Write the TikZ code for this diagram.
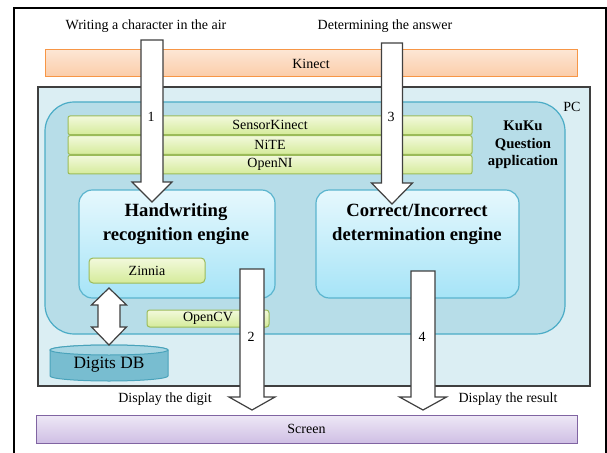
\documentclass[tikz,border=0pt]{standalone}
\usepackage{fontspec}
\setmainfont{Liberation Serif}
\usepackage{xcolor}
\usetikzlibrary{calc,positioning}

\definecolor{kinectEdge}{HTML}{F79646}
\definecolor{kinectTop}{HTML}{FDE6D4}
\definecolor{kinectBot}{HTML}{FBCCA8}
\definecolor{pcEdge}{HTML}{3F3F3F}
\definecolor{pcFill}{HTML}{DBEEF3}
\definecolor{kukuEdge}{HTML}{4BACC6}
\definecolor{kukuFill}{HTML}{B7DDE8}
\definecolor{greenEdge}{HTML}{9BBB59}
\definecolor{greenTop}{HTML}{F2F9DC}
\definecolor{greenBot}{HTML}{D5EB9A}
\definecolor{engineEdge}{HTML}{5AB4CE}
\definecolor{engineTop}{HTML}{E6F8FD}
\definecolor{engineBot}{HTML}{A6E4F7}
\definecolor{screenEdge}{HTML}{8064A2}
\definecolor{screenTop}{HTML}{EEE8F6}
\definecolor{screenBot}{HTML}{CFBFE4}
\definecolor{dbEdge}{HTML}{4AA3BB}
\definecolor{dbBody}{HTML}{78BDD0}
\definecolor{dbEnd}{HTML}{A8D6E3}
\definecolor{arrowEdge}{HTML}{404040}

\tikzset{
  labeltext/.style={font=\fontsize{10.5}{12}\selectfont, inner sep=0.75pt},
  enginetext/.style={font=\fontsize{14}{18}\selectfont\bfseries, align=center, inner sep=0.75pt},
  greenbar/.style={draw=greenEdge, line width=0.75pt, top color=greenTop, bottom color=greenBot,
    rounded corners=1.5pt, minimum width=303pt, minimum height=14pt, inner sep=0pt,
    font=\fontsize{10.5}{12}\selectfont},
  enginebox/.style={draw=engineEdge, line width=0.9pt, top color=engineTop, bottom color=engineBot,
    rounded corners=10pt, minimum height=81pt, inner sep=0pt},
  blockarrow/.style={draw=arrowEdge, fill=white, line width=0.9pt, line join=miter},
}

% start, tip, half shaft, half head, head length
\newcommand{\blockdown}[5]{%
  \draw[blockarrow] ($(#1)+(-#3,0)$) -- ($(#1)+(#3,0)$) -- ($(#2)+(#3,-#5)$) -- ($(#2)+(#4,-#5)$)
    -- (#2) -- ($(#2)+(-#4,-#5)$) -- ($(#2)+(-#3,-#5)$) -- cycle;}

\begin{document}
\begin{tikzpicture}[x=0.75pt,y=0.75pt,yscale=-1,xscale=1]
\useasboundingbox (0,0) rectangle (607,453);

%Frame
\draw [line width=0.9pt] (14,453) -- (14,8) -- (606,8) -- (606,453);

% Text Node
\node (writing) [labeltext] at (146,26) {Writing a character in the air};
% Text Node
\node (determining) [labeltext] at (385,26) {Determining the answer};

%Shape: Kinect
\node (kinect) [draw=kinectEdge, line width=0.75pt, top color=kinectTop, bottom color=kinectBot,
  minimum width=399pt, minimum height=20.25pt, inner sep=0pt, font=\fontsize{10.5}{12}\selectfont]
  at (311,63.5) {Kinect};

%Shape: PC
\node (pc) [draw=pcEdge, fill=pcFill, line width=0.9pt, minimum width=414pt, minimum height=224.25pt]
  at (314,236.5) {};
\node (pclabel) [labeltext] at (572,107) {PC};

%Shape: KuKu application
\node (kuku) [draw=kukuEdge, fill=kukuFill, line width=0.9pt, rounded corners=22pt,
  minimum width=390pt, minimum height=174pt] at (305,218) {};
\node (kukulabel) [font=\fontsize{11}{13}\selectfont\bfseries, align=center, inner sep=0.75pt]
  at (523,145) {KuKu\\Question\\application};

%Shape: middleware bars
\node (sensorkinect) [greenbar] at (270,125.33) {SensorKinect};
\node (nite) [greenbar, below=0pt of sensorkinect] {NiTE};
\node (openni) [greenbar, below=0pt of nite] {OpenNI};

%Shape: engines
\node (hwr) [enginebox, minimum width=147pt] at (177,244) {};
\node (hwrtext) [enginetext] at (176,224) {Handwriting\\recognition engine};
\node (cid) [enginebox, minimum width=152.25pt] at (417.5,244) {};
\node (cidtext) [enginetext] at (417,224) {Correct/Incorrect\\determination engine};

%Shape: libraries
\node (zinnia) [greenbar, minimum width=87pt, minimum height=18.75pt, rounded corners=3pt]
  at (147,270.5) {Zinnia};
\node (opencv) [greenbar, minimum width=91.5pt, minimum height=12.75pt, rounded corners=2pt]
  at (208,318.5) {OpenCV};

%Shape: Digits DB
\draw [draw=dbEdge, fill=dbBody, line width=0.75pt] (50,350) -- (50,376)
  arc [start angle=180, end angle=0, x radius=59, y radius=5] -- (168,350)
  arc [start angle=0, end angle=-180, x radius=59, y radius=5] -- cycle;
\draw [draw=dbEdge, fill=dbEnd, line width=0.75pt] (109,350) ellipse [x radius=59, y radius=5];
\node (digitsdb) [font=\fontsize{13}{15}\selectfont, inner sep=0.75pt] at (109,365) {Digits DB};

%Double arrow
\coordinate (dbtop) at (109,288);
\coordinate (dbbot) at (109,345);
\draw [blockarrow] (dbtop) -- ($(dbtop)+(17.5,17)$) -- ($(dbtop)+(11,17)$) -- ($(dbbot)+(11,-18)$)
  -- ($(dbbot)+(17.5,-18)$) -- (dbbot) -- ($(dbbot)+(-17.5,-18)$) -- ($(dbbot)+(-11,-18)$)
  -- ($(dbtop)+(-11,17)$) -- ($(dbtop)+(-17.5,17)$) -- cycle;

%Block arrows
\coordinate (in1) at (152,40);   \coordinate (tip1) at (152,202);
\coordinate (in3) at (392,43);   \coordinate (tip3) at (392,204);
\coordinate (in2) at (252,269);  \coordinate (tip2) at (252,410);
\coordinate (in4) at (423,271);  \coordinate (tip4) at (423,410);
\blockdown{in1}{tip1}{11}{20}{20}
\blockdown{in3}{tip3}{10.5}{20.5}{21}
\blockdown{in2}{tip2}{12}{23}{13}
\blockdown{in4}{tip4}{12}{23.5}{13}

% Text Node
\node (step1) [labeltext] at (151,117) {1};
\node (step3) [labeltext] at (391,117) {3};
\node (step2) [labeltext] at (251,337) {2};
\node (step4) [labeltext] at (422,337) {4};

% Text Node
\node (showdigit) [labeltext] at (165,399) {Display the digit};
\node (showresult) [labeltext] at (508,399) {Display the result};

%Shape: Screen
\node (screen) [draw=screenEdge, line width=0.75pt, top color=screenTop, bottom color=screenBot,
  minimum width=405.75pt, minimum height=21pt, inner sep=0pt, font=\fontsize{10.5}{12}\selectfont]
  at (306.5,429) {Screen};

\end{tikzpicture}
\end{document}
